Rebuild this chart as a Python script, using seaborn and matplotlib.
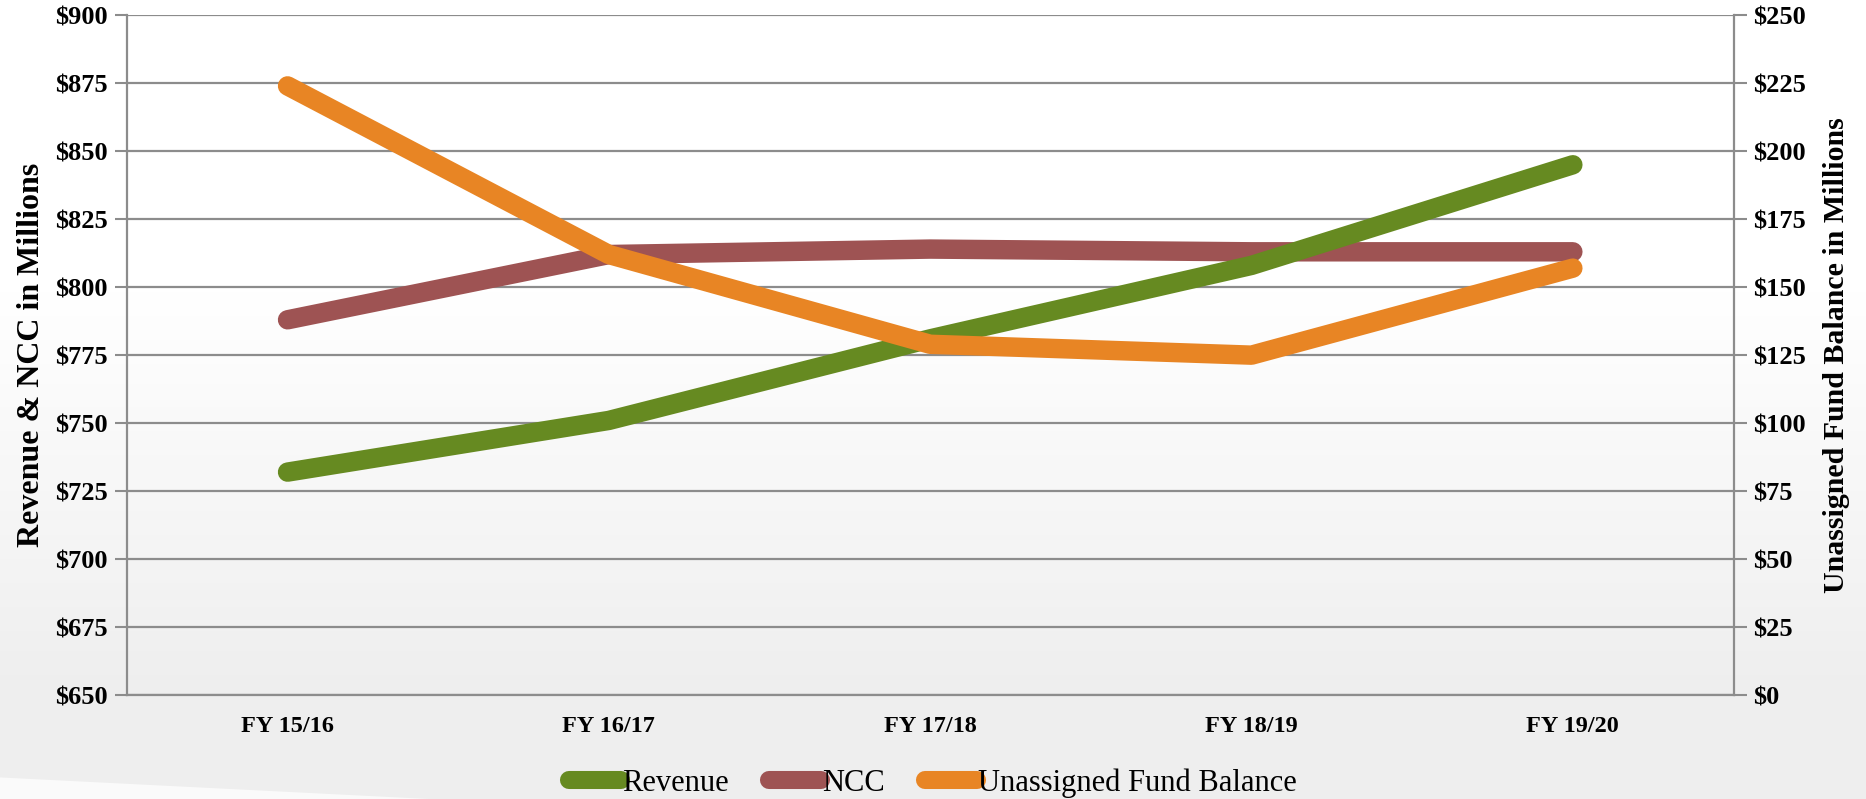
import numpy as np
import pandas as pd
import matplotlib.pyplot as plt
from matplotlib.lines import Line2D
from matplotlib.patches import Polygon
from matplotlib.ticker import FixedLocator
import seaborn as sns

# data (millions of dollars)
years = ['FY 15/16', 'FY 16/17', 'FY 17/18', 'FY 18/19', 'FY 19/20']
revenue = [732, 751, 781, 808, 845]
ncc = [788, 812, 814, 813, 813]
fund_balance = [224, 162, 129, 125, 157]

left_ticks = [650, 675, 700, 725, 750, 775, 800, 825, 850, 875, 900]
left_labels = ['$' + str(v) for v in left_ticks]
right_ticks = [0, 25, 50, 75, 100, 125, 150, 175, 200, 225, 250]
right_labels = ['$' + str(v) for v in right_ticks]

c_rev = '#668a21'
c_ncc = '#9e5353'
c_ufb = '#e88524'
c_grid = '#8c8c8c'

sns.set_style('white')
plt.rcParams['font.family'] = ['Liberation Serif', 'DejaVu Serif']
plt.rcParams['text.color'] = 'black'
plt.rcParams['axes.labelcolor'] = 'black'
plt.rcParams['xtick.labelcolor'] = 'black'
plt.rcParams['ytick.labelcolor'] = 'black'

df = pd.DataFrame({'year': years, 'Revenue': revenue, 'NCC': ncc,
                   'Unassigned Fund Balance': fund_balance})

fig = plt.figure(figsize=(18.66, 7.99), dpi=100)

# background: white fading into light grey towards the bottom
bg = fig.add_axes([0, 0, 1, 1], zorder=-10)
grad = np.ones((200, 2))
yy = np.linspace(0, 1, 200)
grad[:, 0] = np.clip((yy - 0.15) / 0.5, 0, 1)
grad[:, 1] = grad[:, 0]
bg.imshow(grad, extent=[0, 1, 0, 1], aspect='auto', cmap='Greys_r', vmin=-6.5, vmax=1,
          origin='lower')
bg.add_patch(Polygon([[0, 0], [0, 0.027], [0.23, 0]], closed=True,
                     color='#fafafa', lw=0))
bg.set_xlim(0, 1)
bg.set_ylim(0, 1)
bg.axis('off')

ax = fig.add_axes([0.068, 0.130, 0.861, 0.851])
ax.set_facecolor('none')
ax2 = ax.twinx()

lw = 14
sns.lineplot(data=df, x='year', y='NCC', ax=ax, color=c_ncc, lw=lw,
             solid_capstyle='round', solid_joinstyle='round', zorder=3)
sns.lineplot(data=df, x='year', y='Revenue', ax=ax, color=c_rev, lw=lw,
             solid_capstyle='round', solid_joinstyle='round', zorder=4)
sns.lineplot(data=df, x='year', y='Unassigned Fund Balance', ax=ax2, color=c_ufb, lw=lw,
             solid_capstyle='round', solid_joinstyle='round', zorder=5)

ax.set_xlim(-0.5, len(years) - 0.5)
ax.set_ylim(650, 900)
ax2.set_ylim(0, 250)

tick_font = dict(fontsize=19, fontweight='bold')
ax.set_yticks(left_ticks)
ax.set_yticklabels(left_labels, **tick_font)
ax2.set_yticks(right_ticks)
ax2.set_yticklabels(right_labels, **tick_font)
ax.set_xticks(range(len(years)))
ax.set_xticklabels(years, fontsize=17.5, fontweight='bold')
ax.xaxis.set_minor_locator(FixedLocator(np.arange(-0.5, len(years), 1.0)))
ax.tick_params(axis='x', which='major', length=0, pad=15)
ax.tick_params(axis='x', which='minor', length=9, width=1.5, color=c_grid)
ax.tick_params(axis='y', length=9, width=1.5, color=c_grid, pad=5)
ax2.tick_params(axis='y', length=9, width=1.5, color=c_grid, pad=5)

ax.yaxis.grid(True, color=c_grid, lw=1.6)
ax.xaxis.grid(False)
ax.set_axisbelow(True)

for a in (ax, ax2):
    for s in a.spines.values():
        s.set_color(c_grid)
        s.set_linewidth(1.6)
    a.spines['top'].set_visible(False)
ax2.spines['bottom'].set_visible(False)
ax2.spines['left'].set_visible(False)
ax.spines['right'].set_visible(False)

ax.set_xlabel('')
ax.set_ylabel('Revenue & NCC in Millions', fontsize=23, fontweight='bold', labelpad=6)
ax2.set_ylabel('Unassigned Fund Balance in Millions', fontsize=21.5, fontweight='bold',
               labelpad=12)

handles = [Line2D([], [], color=c, lw=13, solid_capstyle='round') for c in (c_rev, c_ncc, c_ufb)]
fig.legend(handles, ['Revenue', 'NCC', 'Unassigned Fund Balance'], loc='center',
           bbox_to_anchor=(0.5, 0.02), ncol=3, frameon=False, fontsize=22,
           handlelength=1.7, handletextpad=0.05, columnspacing=1.3)

fig.savefig('out.png', dpi=100)
